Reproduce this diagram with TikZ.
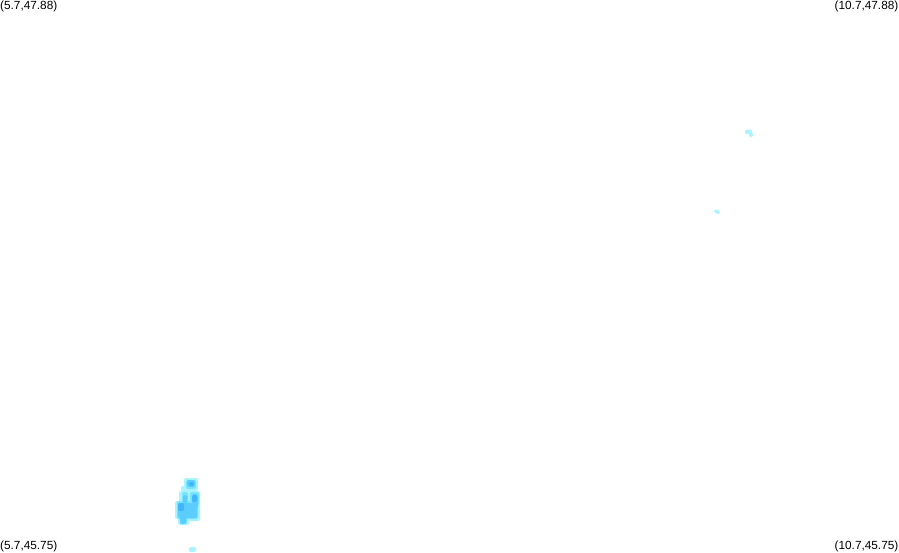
\documentclass[tikz,border=0pt]{standalone}
\usepackage{fontspec}
\setmainfont{Liberation Sans}
\definecolor{lightcyan}{HTML}{AAF4FF}
\definecolor{midcyan}{HTML}{78E4FF}
\definecolor{midblue}{HTML}{5CCDFF}
\definecolor{darkblue}{HTML}{40B6FA}
\tikzset{
  cornerlabel/.style={inner sep=0pt, font=\fontsize{11.8}{12}\selectfont},
  patch/.style={rounded corners=2pt},
}
\begin{document}
\begin{tikzpicture}[x=1pt,y=-1pt]
                \useasboundingbox (0,0) rectangle (899,552);

                \node[cornerlabel, anchor=north west] (topleft) at (0,0.5) {(5.7,47.88)};
                \node[cornerlabel, anchor=north east] (topright) at (898.5,0.5) {(10.7,47.88)};
                \node[cornerlabel, anchor=south west] (bottomleft) at (0,552) {(5.7,45.75)};
                \node[cornerlabel, anchor=south east] (bottomright) at (898.5,552) {(10.7,45.75)};

                % specks on the right
                \fill[lightcyan, patch] (745,129.5) rectangle (752,134);
                \fill[lightcyan, patch] (749,132) rectangle (753,137);
                \fill[lightcyan, patch] (714,209.5) rectangle (719,213);
                \fill[lightcyan, patch] (716,211) rectangle (720,214);
                \fill[lightcyan, patch] (189,547) rectangle (196,552);

                % outer patch
                \fill[lightcyan, patch] (184,478) rectangle (198,491);
                \fill[lightcyan, patch] (181,486) rectangle (191,498);
                \fill[lightcyan, patch] (179,491) rectangle (200,521);
                \fill[lightcyan, patch] (175,501) rectangle (199,519);
                \fill[lightcyan, patch] (178,516) rectangle (189,525);

                % inner patch
                \fill[midcyan, patch] (186,480) rectangle (196,489);
                \fill[midcyan, patch] (182,492) rectangle (188,504);
                \fill[midcyan, patch] (190,492) rectangle (199,505);
                \fill[midcyan, patch] (177,501) rectangle (198,519);
                \fill[midcyan, patch] (180,516) rectangle (187,524);

                \fill[midblue, patch] (187,480) rectangle (195,487);
                \fill[midblue, patch] (192,494) rectangle (198,508);
                \fill[midblue, patch] (183,495) rectangle (187,504);
                \fill[midblue, patch] (178,503) rectangle (197,518);
                \fill[midblue, patch] (180,516) rectangle (186,524);

                \fill[darkblue, patch] (189,482) rectangle (194,486);
                \fill[darkblue, patch] (192,495) rectangle (197,502);
                \fill[darkblue, patch] (178,503) rectangle (184,511);
\end{tikzpicture}
\end{document}
